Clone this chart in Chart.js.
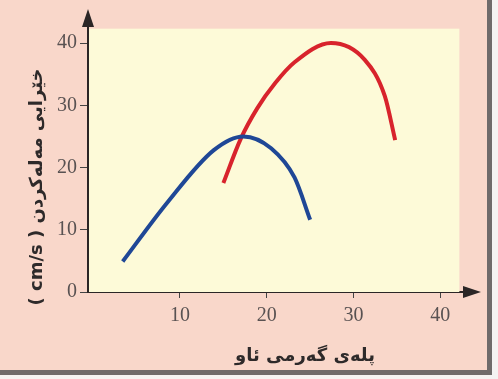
<!DOCTYPE html>
<html lang="ku">
<head>
    <meta charset="UTF-8">
    <title>Swimming speed</title>
    <script src="https://cdn.jsdelivr.net/npm/chart.js"></script>
    <style>
        body { margin: 0; background: #f4f2f2; }
        .frame { position: relative; width: 498px; height: 379px; }
        .paper {
            position: absolute; left: 0; top: 0;
            width: 487px; height: 370px;
            background: #f9d7ca;
            border-right: 5px solid #6f6a6a;
            border-bottom: 5px solid #6f6a6a;
        }
        canvas { position: absolute; left: 0; top: 0; }
    </style>
</head>
<body>
    <div class="frame">
        <div class="paper"></div>
        <canvas id="speedChart" width="498" height="379"></canvas>
    </div>

    <script>
        // Values
        const BLUE_X = [3.4, 8.5, 13.9, 17.3, 20.5, 23.2, 25.0];
        const BLUE_Y = [4.9, 14.3, 22.8, 25.0, 23.1, 18.4, 11.6];
        const RED_X = [15.0, 17.0, 18.9, 21.0, 23.2, 27.4, 31.3, 33.6, 34.8];
        const RED_Y = [17.5, 24.6, 29.5, 33.6, 36.9, 40.0, 37.3, 31.5, 24.4];
        const X_TICKS = [10, 20, 30, 40];
        const Y_TICKS = [0, 10, 20, 30, 40];
        const X_TITLE = 'پلەی گەرمی ئاو';
        const Y_TITLE = '( cm/s ) خێرایی مەلەکردن';

        const toPoints = (xs, ys) => xs.map((x, i) => ({ x: x, y: ys[i] }));

        // yellow panel, arrows on the axes and the axis titles
        const decor = {
            id: 'decor',
            beforeDatasetsDraw(chart) {
                const { ctx, scales: { x, y }, chartArea } = chart;
                ctx.save();
                ctx.fillStyle = '#fdfad8';
                const right = x.getPixelForValue(42.2);
                const top = y.getPixelForValue(42.3);
                ctx.fillRect(chartArea.left + 1, top, right - chartArea.left - 1, chartArea.bottom - top);
                ctx.restore();
            },
            afterDraw(chart) {
                const { ctx, chartArea } = chart;
                ctx.save();
                ctx.fillStyle = '#2b2626';
                // arrow up
                ctx.beginPath();
                ctx.moveTo(chartArea.left, chartArea.top - 6);
                ctx.lineTo(chartArea.left - 6, chartArea.top + 12);
                ctx.lineTo(chartArea.left + 6, chartArea.top + 12);
                ctx.closePath();
                ctx.fill();
                // arrow right
                ctx.beginPath();
                ctx.moveTo(chartArea.right + 6, chartArea.bottom);
                ctx.lineTo(chartArea.right - 12, chartArea.bottom - 6);
                ctx.lineTo(chartArea.right - 12, chartArea.bottom + 6);
                ctx.closePath();
                ctx.fill();

                ctx.fillStyle = '#2e2a2a';
                ctx.font = 'bold 18px "DejaVu Sans"';
                ctx.textAlign = 'center';
                ctx.textBaseline = 'middle';
                ctx.fillText(X_TITLE, 305, 356);
                ctx.translate(37, 187);
                ctx.rotate(-Math.PI / 2);
                ctx.fillText(Y_TITLE, 0, 0);
                ctx.restore();
            }
        };

        const tickFont = { family: '"Liberation Serif", serif', size: 20 };

        new Chart(document.getElementById('speedChart'), {
            type: 'line',
            data: {
                datasets: [
                    {
                        data: toPoints(BLUE_X, BLUE_Y),
                        borderColor: '#1f4796',
                        borderWidth: 4,
                        pointRadius: 0,
                        cubicInterpolationMode: 'monotone'
                    },
                    {
                        data: toPoints(RED_X, RED_Y),
                        borderColor: '#d8232c',
                        borderWidth: 4,
                        pointRadius: 0,
                        cubicInterpolationMode: 'monotone'
                    }
                ]
            },
            options: {
                responsive: false,
                animation: false,
                layout: { padding: { top: 15, right: 23 } },
                plugins: { legend: { display: false }, tooltip: { enabled: false } },
                scales: {
                    x: {
                        type: 'linear',
                        min: -0.6,
                        max: 44,
                        afterBuildTicks: s => { s.ticks = X_TICKS.map(v => ({ value: v })); },
                        afterFit: s => { s.height = 87; },
                        grid: { drawOnChartArea: false, tickLength: 6, color: '#444' },
                        border: { color: '#2b2626', width: 2 },
                        ticks: { font: tickFont, color: '#595252', padding: 6 }
                    },
                    y: {
                        min: 0,
                        max: 44.5,
                        afterBuildTicks: s => { s.ticks = Y_TICKS.map(v => ({ value: v })); },
                        afterFit: s => { s.width = 88; },
                        grid: { drawOnChartArea: false, tickLength: 8, color: '#444' },
                        border: { color: '#2b2626', width: 2 },
                        ticks: { font: tickFont, color: '#595252', padding: 3 }
                    }
                }
            },
            plugins: [decor]
        });
    </script>
</body>
</html>
